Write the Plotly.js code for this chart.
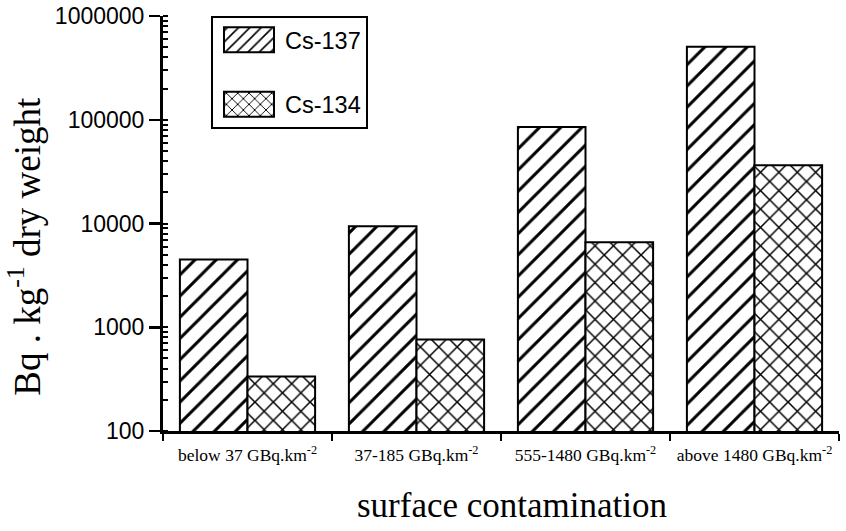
<!DOCTYPE html>
<html>
<head>
<meta charset="utf-8">
<script src="https://cdn.plot.ly/plotly-3.0.1.min.js"></script>
<style>
  html, body { margin: 0; padding: 0; background: #ffffff; }
  #chart { width: 846px; height: 531px; }
</style>
</head>
<body>
<div id="chart"></div>
<script>
// ---- data ----
const categories = [
  'below 37 GBq.km<sup>-2</sup>',
  '37-185 GBq.km<sup>-2</sup>',
  '555-1480 GBq.km<sup>-2</sup>',
  'above 1480 GBq.km<sup>-2</sup>'
];
const seriesNames = ['Cs-137', 'Cs-134'];
const cs137 = [4500, 9400, 85000, 505000];
const cs134 = [335, 760, 6600, 36500];
const yTitle = 'Bq . kg<sup>-1</sup> dry weight';
const xTitle = 'surface contamination';

const serif = '"Liberation Serif", "Times New Roman", Times, serif';
const sans = '"Liberation Sans", Arial, Helvetica, sans-serif';

const barLine = { color: '#000000', width: 2 };

const traces = [
  {
    type: 'bar', name: seriesNames[0], x: categories, y: cs137,
    legendgroup: 'a',
    marker: {
      color: '#ffffff', line: barLine,
      pattern: { shape: '/', size: 15, solidity: 0.2, fgcolor: '#000000', bgcolor: '#ffffff', fillmode: 'replace' }
    }
  },
  {
    type: 'bar', name: seriesNames[1], x: categories, y: cs134,
    legendgroup: 'b',
    marker: {
      color: '#ffffff', line: barLine,
      pattern: { shape: 'x', size: 13, solidity: 0.22, fgcolor: '#000000', bgcolor: '#ffffff', fillmode: 'replace' }
    }
  }
];

const layout = {
  width: 846, height: 531,
  margin: { l: 163, r: 7, t: 16, b: 100, pad: 0 },
  paper_bgcolor: '#ffffff', plot_bgcolor: '#ffffff',
  barmode: 'group', bargap: 0.2, bargroupgap: 0,
  showlegend: true,
  legend: {
    x: 0.071, y: 1.0, xanchor: 'left', yanchor: 'top',
    bordercolor: '#000000', borderwidth: 2, bgcolor: '#ffffff',
    font: { family: sans, size: 23.5, color: '#000000' },
    itemwidth: 62, tracegroupgap: 31,
    traceorder: 'grouped'
  },
  xaxis: {
    type: 'category',
    showline: true, linecolor: '#000000', linewidth: 3,
    ticks: 'outside', tickson: 'boundaries', ticklen: 7, tickwidth: 2.5, tickcolor: '#000000',
    ticklabelstandoff: 6,
    showgrid: false, zeroline: false,
    tickfont: { family: serif, size: 17.5, color: '#000000' }
  },
  yaxis: {
    type: 'log', range: [2, 6],
    tickmode: 'linear', tick0: 0, dtick: 1, tickformat: 'd',
    showline: true, linecolor: '#000000', linewidth: 3,
    ticks: 'outside', ticklen: 11, tickwidth: 2.5, tickcolor: '#000000',
    minor: { ticks: 'inside', ticklen: 5, tickwidth: 2, tickcolor: '#000000', dtick: 'D1', showgrid: false },
    showgrid: false, zeroline: false,
    tickfont: { family: sans, size: 23, color: '#000000' }
  },
  annotations: [
    {
      text: yTitle, textangle: -90,
      xref: 'paper', yref: 'paper', x: -0.205, y: 0.445,
      xanchor: 'center', yanchor: 'middle', showarrow: false,
      font: { family: serif, size: 37, color: '#000000' }
    },
    {
      text: xTitle,
      xref: 'paper', yref: 'paper', x: 0.516, y: -0.18,
      xanchor: 'center', yanchor: 'middle', showarrow: false,
      font: { family: serif, size: 35, color: '#000000' }
    }
  ]
};

function enlargeLegendSwatches() {
  const gd = document.getElementById('chart');
  gd.querySelectorAll('g.legendpoints path').forEach(p => {
    p.setAttribute('d', 'M25,12.5H-25V-12.5H25Z');
    p.style.strokeWidth = '2px';
  });
}

Plotly.newPlot('chart', traces, layout, { displayModeBar: false, staticPlot: true }).then(gd => {
  enlargeLegendSwatches();
  gd.on('plotly_afterplot', enlargeLegendSwatches);
  setTimeout(enlargeLegendSwatches, 0);
  setTimeout(enlargeLegendSwatches, 200);
});
enlargeLegendSwatches();
</script>
</body>
</html>
